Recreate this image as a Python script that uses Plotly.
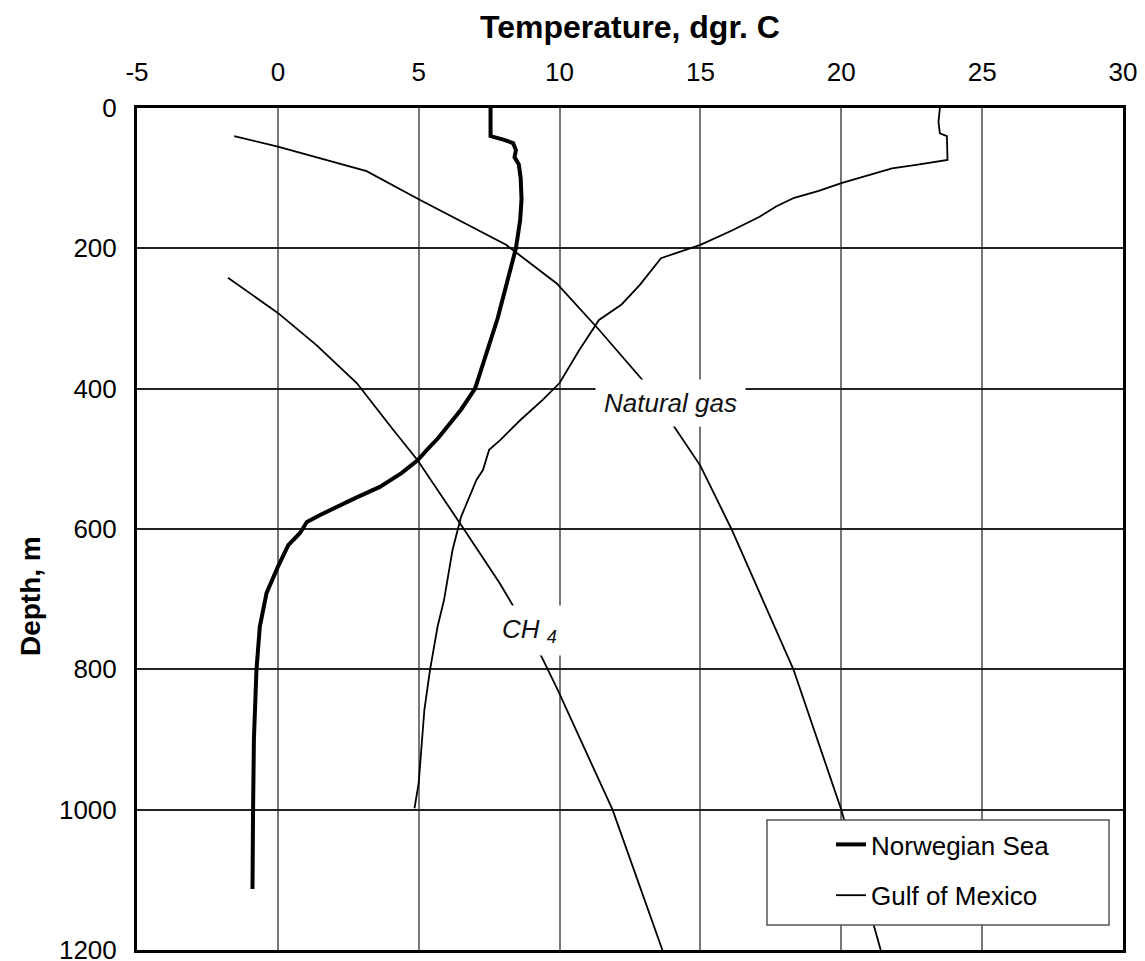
import plotly.graph_objects as go

# Norwegian Sea profile (temperature °C, depth m)
nor_depth = [0, 40, 45, 50, 60, 70, 80, 100, 130, 160, 200, 245, 300, 350, 400, 430, 450,
             470, 487, 502, 520, 540, 555, 566, 580, 590, 606, 623, 654, 691, 739, 801, 900, 1000, 1113]
nor_temp = [7.55, 7.55, 8.0, 8.35, 8.45, 8.4, 8.55, 8.62, 8.65, 8.6, 8.45, 8.17, 7.8, 7.4, 7.0, 6.5, 6.1,
            5.7, 5.3, 4.96, 4.4, 3.62, 2.8, 2.2, 1.5, 1.03, 0.78, 0.37, 0.0, -0.4, -0.64, -0.76, -0.85, -0.88, -0.9]

# Gulf of Mexico profile
gom_depth = [0, 20, 36, 40, 74, 78, 81, 86, 95, 107, 118, 128, 140, 155, 175, 195, 214, 252, 280,
             302, 345, 392, 416, 445, 473, 487, 516, 530, 583, 630, 701, 739, 801, 858, 962, 998]
gom_temp = [23.5, 23.45, 23.5, 23.75, 23.77, 23.2, 22.66, 21.8, 21.0, 20.0, 19.2, 18.33, 17.7, 17.1, 16.1,
            15.0, 13.6, 12.85, 12.2, 11.4, 10.7, 10.0, 9.4, 8.6, 7.9, 7.5, 7.28, 7.05, 6.5, 6.2, 5.9, 5.67,
            5.4, 5.2, 5.0, 4.85]

# Hydrate equilibrium curves
gas_depth = [40, 55, 90, 130, 195, 250, 316, 388, 456, 510, 600, 800, 1000, 1200]
gas_temp = [-1.55, 0.0, 3.15, 5.0, 8.1, 9.9, 11.4, 12.95, 14.1, 15.0, 16.1, 18.3, 20.0, 21.4]

ch4_depth = [242, 292, 338, 392, 459, 502, 600, 677, 706, 782, 829, 1000, 1200]
ch4_temp = [-1.77, 0.0, 1.37, 2.8, 4.1, 4.96, 6.6, 7.87, 8.3, 9.36, 9.93, 11.88, 13.65]

x_ticks = [-5, 0, 5, 10, 15, 20, 25, 30]
x_labels = ["-5", "0", "5", "10", "15", "20", "25", "30"]
y_ticks = [0, 200, 400, 600, 800, 1000, 1200]

FONT = "Liberation Sans, Arial, Helvetica, sans-serif"

fig = go.Figure()
fig.add_trace(go.Scatter(x=gas_temp, y=gas_depth, mode="lines", showlegend=False,
                         line=dict(color="black", width=1.8), name="Natural gas"))
fig.add_trace(go.Scatter(x=ch4_temp, y=ch4_depth, mode="lines", showlegend=False,
                         line=dict(color="black", width=1.8), name="CH4"))
fig.add_trace(go.Scatter(x=nor_temp, y=nor_depth, mode="lines", name="Norwegian Sea",
                         legendgroup="a", line=dict(color="black", width=4)))
fig.add_trace(go.Scatter(x=gom_temp, y=gom_depth, mode="lines", name="Gulf of Mexico",
                         legendgroup="b", line=dict(color="black", width=1.8)))

fig.add_annotation(x=13.95, y=420, text="<i>Natural gas</i>", showarrow=False,
                   font=dict(family=FONT, size=26, color="#111"), bgcolor="white",
                   borderpad=8)
fig.add_annotation(x=8.95, y=744, text="<i>CH <sub>4</sub></i>", showarrow=False,
                   font=dict(family=FONT, size=26, color="#111"), bgcolor="white",
                   borderpad=8)

# y-axis title placed beside the lower half, as in the original
fig.add_annotation(xref="paper", yref="paper", x=-0.1085, y=0.4204, text="<b>Depth, m</b>",
                   textangle=-90, showarrow=False, xanchor="center", yanchor="middle",
                   font=dict(family=FONT, size=28, color="black"))

# legend frame
fig.add_shape(type="rect", xref="paper", yref="paper", layer="above",
              x0=(767 - 137) / 986, x1=(1109 - 137) / 986,
              y0=(950 - 925) / 842, y1=(950 - 820) / 842,
              line=dict(color="#555", width=1.5), fillcolor="white")

fig.update_layout(
    width=1145, height=961,
    margin=dict(l=129, r=30, t=100, b=19),
    paper_bgcolor="white", plot_bgcolor="white",
    font=dict(family=FONT, size=26, color="black"),
    xaxis=dict(side="top", range=[-5, 30], tickvals=x_ticks, ticktext=x_labels, ticks="",
               ticklabelstandoff=14, automargin=False,
               showgrid=True, gridcolor="#777", gridwidth=1.5,
               showline=True, linecolor="black", linewidth=3, mirror=True,
               zeroline=False,
               title=dict(text="<b>Temperature, dgr. C</b>", font=dict(size=32), standoff=9)),
    yaxis=dict(range=[1200, 0], tickvals=y_ticks, ticks="",
               ticklabelstandoff=12, automargin=False,
               showgrid=True, gridcolor="#222", gridwidth=1.5,
               showline=True, linecolor="black", linewidth=3, mirror=True,
               zeroline=False),
    legend=dict(x=(831 - 137) / 986, y=(950 - 821) / 842, xanchor="left", yanchor="top",
                bgcolor="rgba(0,0,0,0)", borderwidth=0,
                font=dict(size=26), tracegroupgap=14),
)

fig.write_html("out.html")
